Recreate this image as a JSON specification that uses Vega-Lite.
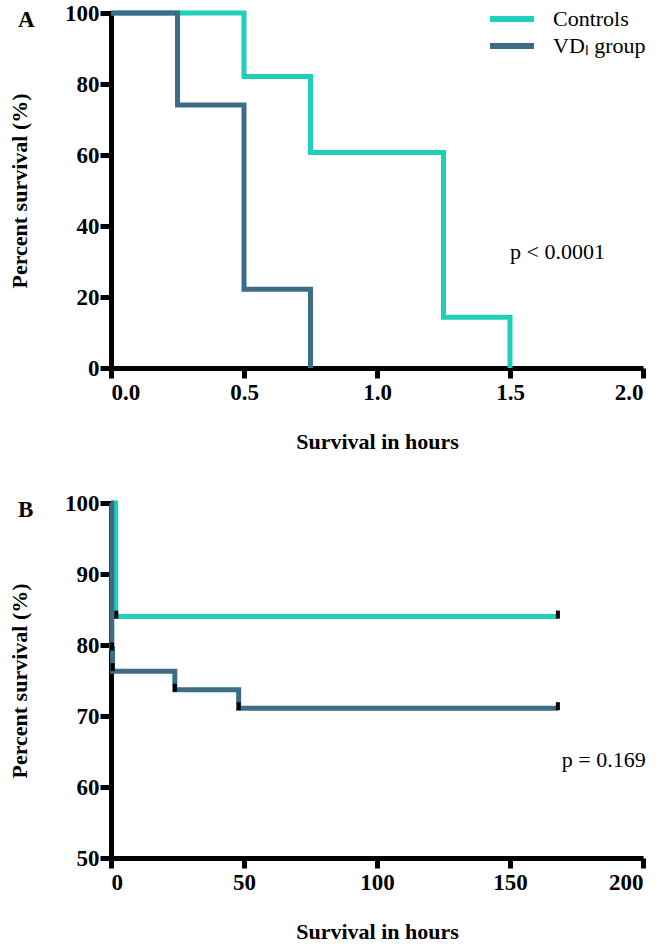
{
  "$schema": "https://vega.github.io/schema/vega-lite/v6.json",
  "padding": {"left": 8, "top": 2, "right": 5, "bottom": 0},
  "background": "white",
  "spacing": 40,
  "config": {
    "view": {"stroke": null},
    "font": "Liberation Serif, Times New Roman, serif",
    "axis": {
      "grid": false,
      "domainColor": "black",
      "domainWidth": 5,
      "tickColor": "black",
      "tickWidth": 5,
      "tickSize": 10,
      "labelFont": "Liberation Serif, Times New Roman, serif",
      "labelFontWeight": "bold",
      "labelFontSize": 23,
      "labelColor": "black",
      "titleFont": "Liberation Serif, Times New Roman, serif",
      "titleFontWeight": "bold",
      "titleFontSize": 22,
      "titleColor": "black"
    },
    "axisX": {"labelPadding": 3, "titlePadding": 27},
    "axisY": {"labelPadding": 1, "titlePadding": 33, "tickSize": 11},
    "legend": {"labelFont": "Liberation Serif, Times New Roman, serif"},
    "title": {
      "anchor": "start",
      "frame": "group",
      "align": "left",
      "baseline": "middle",
      "dx": -93,
      "dy": 5,
      "offset": -25,
      "font": "Liberation Serif, Times New Roman, serif",
      "fontWeight": "bold",
      "fontSize": 23,
      "color": "black"
    }
  },
  "datasets": {
    "a_curves": [
      {"group": "Controls", "hours": 0, "survival": 100},
      {"group": "Controls", "hours": 0.5, "survival": 82.1},
      {"group": "Controls", "hours": 0.75, "survival": 60.7},
      {"group": "Controls", "hours": 1.25, "survival": 14.3},
      {"group": "Controls", "hours": 1.5, "survival": 0},
      {"group": "VDₗ group", "hours": 0, "survival": 100},
      {"group": "VDₗ group", "hours": 0.25, "survival": 74.1},
      {"group": "VDₗ group", "hours": 0.5, "survival": 22.2},
      {"group": "VDₗ group", "hours": 0.75, "survival": 0}
    ],
    "b_curves": [
      {"group": "Controls", "hours": 0, "survival": 100},
      {"group": "Controls", "hours": 1.75, "survival": 84},
      {"group": "Controls", "hours": 168, "survival": 84},
      {"group": "VDₗ group", "hours": 0, "survival": 100},
      {"group": "VDₗ group", "hours": 0.3, "survival": 79.5},
      {"group": "VDₗ group", "hours": 0.6, "survival": 76.3},
      {"group": "VDₗ group", "hours": 24, "survival": 73.7},
      {"group": "VDₗ group", "hours": 48, "survival": 71.1},
      {"group": "VDₗ group", "hours": 168, "survival": 71.1}
    ],
    "b_censored": [
      {"group": "Controls", "hours": 2, "survival": 84},
      {"group": "Controls", "hours": 168, "survival": 84},
      {"group": "VDₗ group", "hours": 0.4, "survival": 79.5},
      {"group": "VDₗ group", "hours": 0.6, "survival": 76.6},
      {"group": "VDₗ group", "hours": 24, "survival": 73.7},
      {"group": "VDₗ group", "hours": 48, "survival": 71.1},
      {"group": "VDₗ group", "hours": 168, "survival": 71.1}
    ]
  },
  "vconcat": [
    {
      "width": 532,
      "height": 355,
      "title": {"text": "A"},
      "layer": [
        {
          "data": {"name": "a_curves"},
          "mark": {"type": "line", "interpolate": "step-after", "strokeWidth": 5},
          "encoding": {
            "x": {"field": "hours", "type": "quantitative", "scale": {"domain": [0, 2], "nice": false}, "axis": {"values": [0, 0.5, 1, 1.5, 2], "format": ".1f", "title": "Survival in hours"}},
            "y": {"field": "survival", "type": "quantitative", "scale": {"domain": [0, 100], "nice": false}, "axis": {"values": [0, 20, 40, 60, 80, 100], "title": "Percent survival (%)"}},
            "color": {
              "field": "group", "type": "nominal",
              "scale": {"domain": ["Controls", "VDₗ group"], "range": ["#20cfb8", "#3d6d86"]},
              "legend": {
                "orient": "none", "legendX": 387, "legendY": -8, "title": null,
                "symbolType": "M-2,0H2", "symbolStrokeWidth": 6, "symbolSize": 484,
                "labelFont": "Liberation Serif, Times New Roman, serif", "labelFontSize": 22, "labelColor": "black",
                "labelOffset": 27, "rowPadding": 1, "padding": 0
              }
            }
          }
        },
        {
          "data": {"values": [{"hours": 1.5, "survival": 32.7, "label": "p < 0.0001"}]},
          "mark": {"type": "text", "align": "left", "baseline": "middle", "font": "Liberation Serif, Times New Roman, serif", "fontSize": 22, "color": "black"},
          "encoding": {
            "x": {"field": "hours", "type": "quantitative"},
            "y": {"field": "survival", "type": "quantitative"},
            "text": {"field": "label"}
          }
        }
      ]
    },
    {
      "width": 532,
      "height": 355,
      "title": {"text": "B"},
      "layer": [
        {
          "data": {"name": "b_curves"},
          "mark": {"type": "line", "interpolate": "step-after", "strokeWidth": 5},
          "encoding": {
            "x": {"field": "hours", "type": "quantitative", "scale": {"domain": [0, 200], "nice": false}, "axis": {"values": [0, 50, 100, 150, 200], "title": "Survival in hours"}},
            "y": {"field": "survival", "type": "quantitative", "scale": {"domain": [50, 100], "nice": false, "zero": false}, "axis": {"values": [50, 60, 70, 80, 90, 100], "title": "Percent survival (%)"}},
            "color": {
              "field": "group", "type": "nominal",
              "scale": {"domain": ["Controls", "VDₗ group"], "range": ["#20cfb8", "#3d6d86"]},
              "legend": null
            }
          }
        },
        {
          "data": {"name": "b_censored"},
          "mark": {"type": "tick", "orient": "vertical", "color": "black", "size": 8, "thickness": 4, "yOffset": -2, "opacity": 1},
          "encoding": {
            "x": {"field": "hours", "type": "quantitative"},
            "y": {"field": "survival", "type": "quantitative"}
          }
        },
        {
          "data": {"values": [{"hours": 169.5, "survival": 63.8, "label": "p = 0.169"}]},
          "mark": {"type": "text", "align": "left", "baseline": "middle", "font": "Liberation Serif, Times New Roman, serif", "fontSize": 22, "color": "black"},
          "encoding": {
            "x": {"field": "hours", "type": "quantitative"},
            "y": {"field": "survival", "type": "quantitative"},
            "text": {"field": "label"}
          }
        }
      ]
    }
  ],
  "resolve": {"scale": {"color": "independent"}}
}
